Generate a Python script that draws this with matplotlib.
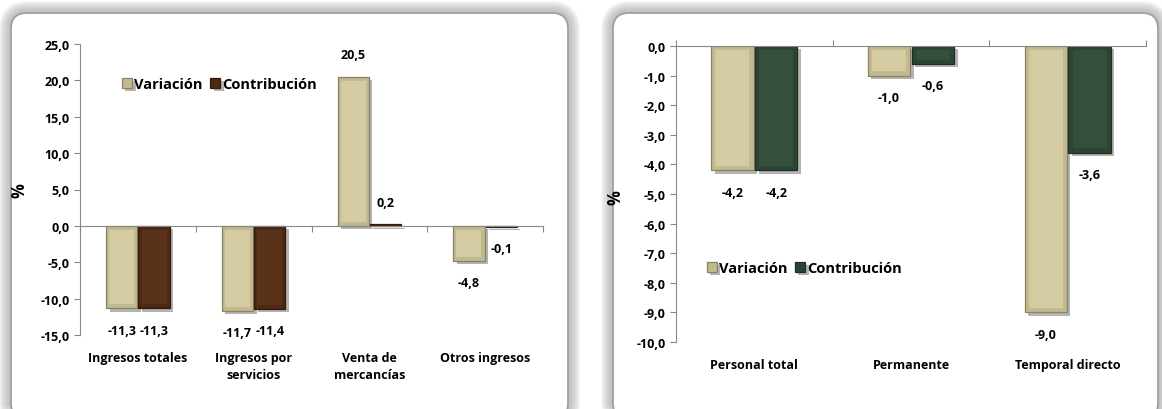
import numpy as np
import matplotlib
matplotlib.use('Agg')
from matplotlib import pyplot as plt
from matplotlib.patches import FancyBboxPatch
import matplotlib.patheffects as pe
import matplotlib.transforms as mtransforms

plt.rcParams['font.family'] = ['Open Sans', 'DejaVu Sans']
plt.rcParams['font.weight'] = 'bold'

# datos
cats_ing = ['Ingresos totales', 'Ingresos por\nservicios', 'Venta de\nmercancías', 'Otros ingresos']
var_ing = [-11.3, -11.7, 20.5, -4.8]
con_ing = [-11.3, -11.4, 0.2, -0.1]

cats_per = ['Personal total', 'Permanente', 'Temporal directo']
var_per = [-4.2, -1.0, -9.0]
con_per = [-4.2, -0.6, -3.6]

yticks_ing = [25, 20, 15, 10, 5, 0, -5, -10, -15]
yticks_per = [0, -1, -2, -3, -4, -5, -6, -7, -8, -9, -10]

# (cara, bisel, borde)
beige = ('#d4cba2', '#c2b98f', '#8a8262')
brown = ('#5a3219', '#4c2913', '#30190a')
green = ('#34503c', '#2c4533', '#1d2e22')

W, H = 1162, 410
fig = plt.figure(figsize=(W / 100, H / 100), dpi=100)

# fondo con recuadros redondeados
bg = fig.add_axes([0, 0, 1, 1])
bg.set_xlim(0, W)
bg.set_ylim(H, 0)
bg.axis('off')
for (x0, y0, x1, y1) in [(11, 14, 568, 420), (613, 14, 1158, 420)]:
    for k in range(10, 0, -1):
        bg.add_patch(FancyBboxPatch((x0, y0), x1 - x0, y1 - y0,
                                    boxstyle='round,pad=0,rounding_size=16',
                                    fc='none', ec='#a5a5a5', lw=k * 1.7, alpha=0.1))
    bg.add_patch(FancyBboxPatch((x0, y0), x1 - x0, y1 - y0,
                                boxstyle='round,pad=0,rounding_size=16',
                                fc='white', ec='#a0a0a0', lw=1.3))


def fmt(v):
    return ('%.1f' % v).replace('.', ',')


def draw(ax, cats, var, con, ccol, yticks, zero_top):
    x = np.arange(len(cats))
    w = 0.27
    rng = max(yticks) - min(yticks)
    inset = rng * 0.014
    shadow = [pe.SimplePatchShadow(offset=(2.5, -2.5), shadow_rgbFace='#444444', alpha=0.4), pe.Normal()]
    for xs, vals, col, lab in [(x - 0.14, var, beige, 'Variación'), (x + 0.14, con, ccol, 'Contribución')]:
        bars = ax.bar(xs, vals, w, color=col[1], edgecolor=col[2], lw=0.9, label=lab)
        for b in bars:
            b.set_path_effects(shadow)
        # cara interior (efecto bisel)
        for xi, v in zip(xs, vals):
            if abs(v) > 2.5 * inset:
                s = np.sign(v)
                ax.bar(xi, v - s * 2 * inset, w * 0.8, bottom=s * inset, color=col[0], lw=0)
        for xi, v in zip(xs, vals):
            off = 22 if v > 0 else -22
            ax.annotate(fmt(v), (xi, v), xytext=(0, off), textcoords='offset pixels',
                        ha='center', va='center', fontsize=9, fontweight='bold')
    ax.set_xlim(-0.5, len(cats) - 0.5)
    ax.set_ylim(min(yticks), max(yticks))
    ax.set_yticks(yticks)
    ax.set_yticklabels([fmt(v) for v in yticks], fontsize=9, fontweight='bold')
    ax.set_xticks(np.arange(len(cats) + 1) - 0.5)
    ax.set_xticklabels([])
    ax.tick_params(axis='both', colors='#888888', length=4, labelcolor='black')
    ax.spines['right'].set_visible(False)
    ax.spines['left'].set_color('#888888')
    if zero_top:
        ax.xaxis.tick_top()
        ax.spines['bottom'].set_visible(False)
        ax.spines['top'].set_color('#888888')
    else:
        ax.spines['top'].set_visible(False)
        ax.spines['bottom'].set_position(('data', 0))
        ax.spines['bottom'].set_color('#888888')
    ax.set_facecolor('none')
    trans = mtransforms.blended_transform_factory(ax.transData, ax.transAxes)
    for xi, c in zip(x, cats):
        ax.text(xi, -0.055, c, transform=trans, ha='center', va='top',
                fontsize=9, fontweight='bold', linespacing=1.35)
    ax.set_ylabel('%', fontsize=12, fontweight='bold')
    return ax


ax1 = fig.add_axes([80 / W, 1 - 336 / H, 463 / W, 291 / H])
draw(ax1, cats_ing, var_ing, con_ing, brown, yticks_ing, False)
ax1.yaxis.set_label_coords(-0.112, 0.5)
ax1.legend(loc='center left', bbox_to_anchor=(0.075, 0.863), ncol=2, frameon=False,
           handlelength=0.7, handleheight=0.7, handletextpad=0.15, columnspacing=0.5,
           prop={'size': 10.5, 'weight': 'bold'}, borderpad=0)

ax2 = fig.add_axes([676 / W, 1 - 343 / H, 470 / W, 296 / H])
draw(ax2, cats_per, var_per, con_per, green, yticks_per, True)
ax2.yaxis.set_label_coords(-0.109, 0.49)
ax2.legend(loc='center left', bbox_to_anchor=(0.05, 0.25), ncol=2, frameon=False,
           handlelength=0.7, handleheight=0.7, handletextpad=0.15, columnspacing=0.5,
           prop={'size': 10.5, 'weight': 'bold'}, borderpad=0)

fig.savefig('out.png', dpi=100)
